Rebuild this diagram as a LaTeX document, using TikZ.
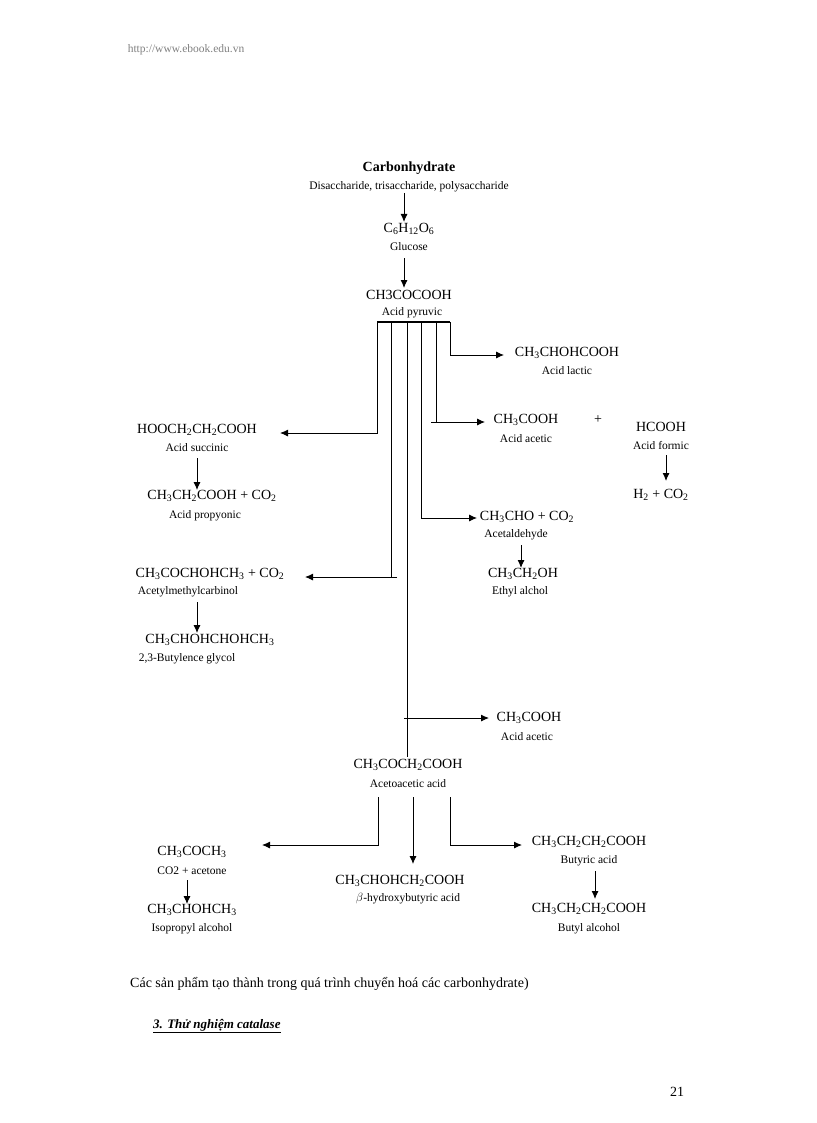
\documentclass[tikz,border=0pt]{standalone}
\usepackage{fontspec}
\setmainfont{Liberation Serif}
\usetikzlibrary{arrows.meta}
\begin{document}
\begin{tikzpicture}[x=1pt,y=-1pt,
  f/.style={font=\fontsize{14}{16}\selectfont,inner sep=0pt},
  l/.style={font=\fontsize{11.5}{13}\selectfont,inner sep=0pt},
  ar/.style={-{Latex[length=8pt,width=7pt]},line width=0.9pt},
  ln/.style={line width=0.9pt}]
\useasboundingbox (0,0) rectangle (816,1123);
\node[l,text=gray] (hdr) at (186,50) {http://www.ebook.edu.vn};
\node[f,font=\fontsize{14}{16}\selectfont\bfseries] (carb) at (409,168) {Carbonhydrate};
\node[l] (dis) at (409,187) {Disaccharide, trisaccharide, polysaccharide};
\node[f] (glu) at (409,229) {C\textsubscript{6}H\textsubscript{12}O\textsubscript{6}};
\node[l] (glul) at (409,247) {Glucose};
\node[f] (pyr) at (409,295) {CH3COCOOH};
\node[l] (pyrl) at (412,313) {Acid pyruvic};
\draw[ar] (404,193) -- (404,222);
\draw[ar] (404,258) -- (404,288);
\coordinate (bl) at (377,322); \coordinate (br) at (450,322);
\draw[line width=1.5pt] (bl) -- (br);
\node[f] (lac) at (567,353) {CH\textsubscript{3}CHOHCOOH};
\node[l] (lacl) at (567,371) {Acid lactic};
\node[f] (ac1) at (526,420) {CH\textsubscript{3}COOH};
\node[l] (ac1l) at (526,439) {Acid acetic};
\node[f] (plus) at (598,420) {+};
\node[f] (for) at (661,427) {HCOOH};
\node[l] (forl) at (661,446) {Acid formic};
\node[f] (h2) at (661,495) {H\textsubscript{2} + CO\textsubscript{2}};
\draw[ar] (666,455) -- (666,481);
\node[f] (suc) at (197,430) {HOOCH\textsubscript{2}CH\textsubscript{2}COOH};
\node[l] (sucl) at (197,448) {Acid succinic};
\node[f] (prop) at (212,496) {CH\textsubscript{3}CH\textsubscript{2}COOH + CO\textsubscript{2}};
\node[l] (propl) at (205,516) {Acid propyonic};
\draw[ar] (197,458) -- (197,490);
\node[f] (ald) at (527,517) {CH\textsubscript{3}CHO + CO\textsubscript{2}};
\node[l] (aldl) at (516,535) {Acetaldehyde};
\node[f] (eth) at (523,574) {CH\textsubscript{3}CH\textsubscript{2}OH};
\node[l] (ethl) at (520,592) {Ethyl alchol};
\draw[ar] (521,545) -- (521,568);
\node[f] (amc) at (210,574) {CH\textsubscript{3}COCHOHCH\textsubscript{3} + CO\textsubscript{2}};
\node[l] (amcl) at (188,592) {Acetylmethylcarbinol};
\node[f] (bg) at (210,640) {CH\textsubscript{3}CHOHCHOHCH\textsubscript{3}};
\node[l] (bgl) at (187,659) {2,3-Butylence glycol};
\draw[ar] (197,602) -- (197,633);
\node[f] (ac2) at (529,718) {CH\textsubscript{3}COOH};
\node[l] (ac2l) at (527,737) {Acid acetic};
\node[f] (aa) at (408,765) {CH\textsubscript{3}COCH\textsubscript{2}COOH};
\node[l] (aal) at (408,784) {Acetoacetic acid};
% pyruvic branches
\draw[ar] (377,322) -- (377,433) -- (280,433);
\draw[ln] (391,322) -- (391,577);
\draw[ar] (397,577) -- (305,577);
\draw[ln] (407,322) -- (407,757);
\draw[ar] (404,718) -- (489,718);
\draw[ar] (421,322) -- (421,518) -- (477,518);
\draw[ln] (436,322) -- (436,422);
\draw[ar] (431,422) -- (485,422);
\draw[ar] (450,322) -- (450,355) -- (504,355);
% acetoacetic
\node[f] (ace) at (192,852) {CH\textsubscript{3}COCH\textsubscript{3}};
\node[l] (acel) at (192,871) {CO2 + acetone};
\node[f] (iso) at (192,910) {CH\textsubscript{3}CHOHCH\textsubscript{3}};
\node[l] (isol) at (192,929) {Isopropyl alcohol};
\draw[ar] (187,880) -- (187,904);
\node[f] (hb) at (400,881) {CH\textsubscript{3}CHOHCH\textsubscript{2}COOH};
\node[l] (hbl) at (408,899) {$\beta$-hydroxybutyric acid};
\node[f] (but) at (589,842) {CH\textsubscript{3}CH\textsubscript{2}CH\textsubscript{2}COOH};
\node[l] (butl) at (589,861) {Butyric acid};
\node[f] (buo) at (589,909) {CH\textsubscript{3}CH\textsubscript{2}CH\textsubscript{2}COOH};
\node[l] (buol) at (589,929) {Butyl alcohol};
\draw[ar] (595,871) -- (595,899);
\draw[ar] (378,797) -- (378,845) -- (262,845);
\draw[ar] (413,797) -- (413,864);
\draw[ar] (450,797) -- (450,845) -- (522,845);
\node[f,anchor=west] (cap) at (130,984) {Các sản phẩm tạo thành trong quá trình chuyển hoá các carbonhydrate)};
\node[f,anchor=west,font=\fontsize{13}{15}\selectfont\bfseries\itshape] (sec) at (153,1026) {\underline{3. Thử nghiệm catalase}};
\node[f] (pg) at (677,1092) {21};
\end{tikzpicture}
\end{document}
